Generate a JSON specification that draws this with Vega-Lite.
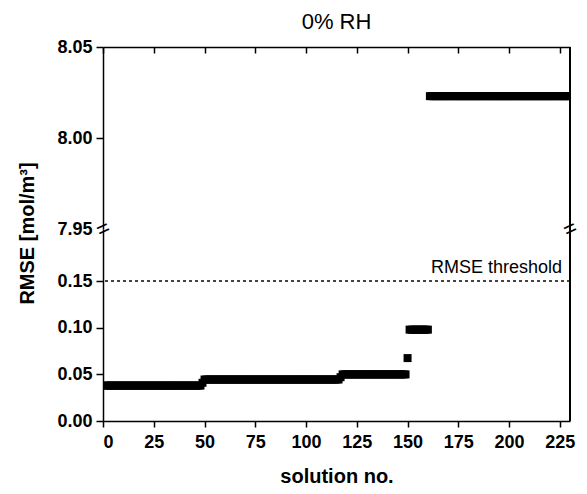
{
  "$schema": "https://vega.github.io/schema/vega-lite/v6.json",
  "padding": {"left": 16, "top": 11, "right": 5, "bottom": 5},
  "spacing": 0,
  "bounds": "flush",
  "config": {
    "font": "Liberation Sans",
    "view": {"stroke": null},
    "axis": {
      "grid": false,
      "domainColor": "black",
      "domainWidth": 1.5,
      "tickColor": "black",
      "tickWidth": 1.5,
      "labelFont": "Liberation Sans",
      "labelFontWeight": "bold",
      "labelFontSize": 18,
      "labelColor": "black",
      "titleFont": "Liberation Sans",
      "titleFontWeight": "bold",
      "titleFontSize": 20,
      "titleColor": "black"
    }
  },
  "datasets": {
    "rmse": [
      {"n":1,"r":0.038},{"n":2,"r":0.038},{"n":3,"r":0.038},{"n":4,"r":0.038},{"n":5,"r":0.038},{"n":6,"r":0.038},{"n":7,"r":0.038},{"n":8,"r":0.038},{"n":9,"r":0.038},{"n":10,"r":0.038},
      {"n":11,"r":0.038},{"n":12,"r":0.038},{"n":13,"r":0.038},{"n":14,"r":0.038},{"n":15,"r":0.038},{"n":16,"r":0.038},{"n":17,"r":0.038},{"n":18,"r":0.038},{"n":19,"r":0.038},{"n":20,"r":0.038},
      {"n":21,"r":0.038},{"n":22,"r":0.038},{"n":23,"r":0.038},{"n":24,"r":0.038},{"n":25,"r":0.038},{"n":26,"r":0.038},{"n":27,"r":0.038},{"n":28,"r":0.038},{"n":29,"r":0.038},{"n":30,"r":0.038},
      {"n":31,"r":0.038},{"n":32,"r":0.038},{"n":33,"r":0.038},{"n":34,"r":0.038},{"n":35,"r":0.038},{"n":36,"r":0.038},{"n":37,"r":0.038},{"n":38,"r":0.038},{"n":39,"r":0.038},{"n":40,"r":0.038},
      {"n":41,"r":0.038},{"n":42,"r":0.038},{"n":43,"r":0.038},{"n":44,"r":0.038},{"n":45,"r":0.038},{"n":46,"r":0.038},{"n":47,"r":0.038},{"n":48,"r":0.038},{"n":49,"r":0.041},{"n":50,"r":0.0445},
      {"n":51,"r":0.0445},{"n":52,"r":0.0445},{"n":53,"r":0.0445},{"n":54,"r":0.0445},{"n":55,"r":0.0445},{"n":56,"r":0.0445},{"n":57,"r":0.0445},{"n":58,"r":0.0445},{"n":59,"r":0.0445},{"n":60,"r":0.0445},
      {"n":61,"r":0.0445},{"n":62,"r":0.0445},{"n":63,"r":0.0445},{"n":64,"r":0.0445},{"n":65,"r":0.0445},{"n":66,"r":0.0445},{"n":67,"r":0.0445},{"n":68,"r":0.0445},{"n":69,"r":0.0445},{"n":70,"r":0.0445},
      {"n":71,"r":0.0445},{"n":72,"r":0.0445},{"n":73,"r":0.0445},{"n":74,"r":0.0445},{"n":75,"r":0.0445},{"n":76,"r":0.0445},{"n":77,"r":0.0445},{"n":78,"r":0.0445},{"n":79,"r":0.0445},{"n":80,"r":0.0445},
      {"n":81,"r":0.0445},{"n":82,"r":0.0445},{"n":83,"r":0.0445},{"n":84,"r":0.0445},{"n":85,"r":0.0445},{"n":86,"r":0.0445},{"n":87,"r":0.0445},{"n":88,"r":0.0445},{"n":89,"r":0.0445},{"n":90,"r":0.0445},
      {"n":91,"r":0.0445},{"n":92,"r":0.0445},{"n":93,"r":0.0445},{"n":94,"r":0.0445},{"n":95,"r":0.0445},{"n":96,"r":0.0445},{"n":97,"r":0.0445},{"n":98,"r":0.0445},{"n":99,"r":0.0445},{"n":100,"r":0.0445},
      {"n":101,"r":0.0445},{"n":102,"r":0.0445},{"n":103,"r":0.0445},{"n":104,"r":0.0445},{"n":105,"r":0.0445},{"n":106,"r":0.0445},{"n":107,"r":0.0445},{"n":108,"r":0.0445},{"n":109,"r":0.0445},{"n":110,"r":0.0445},
      {"n":111,"r":0.0445},{"n":112,"r":0.0445},{"n":113,"r":0.0445},{"n":114,"r":0.0445},{"n":115,"r":0.0445},{"n":116,"r":0.0445},{"n":117,"r":0.047},{"n":118,"r":0.05},{"n":119,"r":0.05},{"n":120,"r":0.05},
      {"n":121,"r":0.05},{"n":122,"r":0.05},{"n":123,"r":0.05},{"n":124,"r":0.05},{"n":125,"r":0.05},{"n":126,"r":0.05},{"n":127,"r":0.05},{"n":128,"r":0.05},{"n":129,"r":0.05},{"n":130,"r":0.05},
      {"n":131,"r":0.05},{"n":132,"r":0.05},{"n":133,"r":0.05},{"n":134,"r":0.05},{"n":135,"r":0.05},{"n":136,"r":0.05},{"n":137,"r":0.05},{"n":138,"r":0.05},{"n":139,"r":0.05},{"n":140,"r":0.05},
      {"n":141,"r":0.05},{"n":142,"r":0.05},{"n":143,"r":0.05},{"n":144,"r":0.05},{"n":145,"r":0.05},{"n":146,"r":0.05},{"n":147,"r":0.05},{"n":148,"r":0.05},{"n":149,"r":0.05},{"n":150,"r":0.0675},
      {"n":151,"r":0.098},{"n":152,"r":0.098},{"n":153,"r":0.098},{"n":154,"r":0.098},{"n":155,"r":0.098},{"n":156,"r":0.098},{"n":157,"r":0.098},{"n":158,"r":0.098},{"n":159,"r":0.098},{"n":160,"r":0.098},
      {"n":161,"r":8.023},{"n":162,"r":8.023},{"n":163,"r":8.023},{"n":164,"r":8.023},{"n":165,"r":8.023},{"n":166,"r":8.023},{"n":167,"r":8.023},{"n":168,"r":8.023},{"n":169,"r":8.023},{"n":170,"r":8.023},
      {"n":171,"r":8.023},{"n":172,"r":8.023},{"n":173,"r":8.023},{"n":174,"r":8.023},{"n":175,"r":8.023},{"n":176,"r":8.023},{"n":177,"r":8.023},{"n":178,"r":8.023},{"n":179,"r":8.023},{"n":180,"r":8.023},
      {"n":181,"r":8.023},{"n":182,"r":8.023},{"n":183,"r":8.023},{"n":184,"r":8.023},{"n":185,"r":8.023},{"n":186,"r":8.023},{"n":187,"r":8.023},{"n":188,"r":8.023},{"n":189,"r":8.023},{"n":190,"r":8.023},
      {"n":191,"r":8.023},{"n":192,"r":8.023},{"n":193,"r":8.023},{"n":194,"r":8.023},{"n":195,"r":8.023},{"n":196,"r":8.023},{"n":197,"r":8.023},{"n":198,"r":8.023},{"n":199,"r":8.023},{"n":200,"r":8.023},
      {"n":201,"r":8.023},{"n":202,"r":8.023},{"n":203,"r":8.023},{"n":204,"r":8.023},{"n":205,"r":8.023},{"n":206,"r":8.023},{"n":207,"r":8.023},{"n":208,"r":8.023},{"n":209,"r":8.023},{"n":210,"r":8.023},
      {"n":211,"r":8.023},{"n":212,"r":8.023},{"n":213,"r":8.023},{"n":214,"r":8.023},{"n":215,"r":8.023},{"n":216,"r":8.023},{"n":217,"r":8.023},{"n":218,"r":8.023},{"n":219,"r":8.023},{"n":220,"r":8.023},
      {"n":221,"r":8.023},{"n":222,"r":8.023},{"n":223,"r":8.023},{"n":224,"r":8.023},{"n":225,"r":8.023},{"n":226,"r":8.023},{"n":227,"r":8.023},{"n":228,"r":8.023},{"n":229,"r":8.023},{"n":230,"r":8.023}
    ]
  },
  "vconcat": [
    {
      "width": 467,
      "height": 182,
      "title": {"text": "0% RH", "fontSize": 22, "fontWeight": "normal", "font": "Liberation Sans", "color": "black", "frame": "group", "anchor": "middle", "offset": 4},
      "data": {"name": "rmse"},
      "layer": [
        {
          "transform": [{"filter": "datum.r > 1"}],
          "mark": {"type": "point", "shape": "square", "filled": true, "size": 64, "color": "black", "opacity": 1, "clip": true},
          "encoding": {
            "x": {"field": "n", "type": "quantitative",
              "scale": {"domain": [0, 230], "nice": false, "zero": false},
              "axis": {"orient": "top", "title": null, "labels": false,
                "values": [0,12.5,25,37.5,50,62.5,75,87.5,100,112.5,125,137.5,150,162.5,175,187.5,200,212.5,225],
                "tickSize": {"condition": {"test": "datum.value % 25 === 0", "value": -6}, "value": -3}}},
            "y": {"field": "r", "type": "quantitative",
              "scale": {"domain": [7.95, 8.05], "nice": false, "zero": false},
              "axis": {"title": null, "values": [7.95, 8.0, 8.05], "format": ".2f", "tickSize": 7, "labelPadding": 4,
                "tickOpacity": {"condition": {"test": "datum.value < 7.96", "value": 0}, "value": 1}}}
          }
        },
        {
          "mark": {"type": "rule", "color": "black", "strokeWidth": 1.5},
          "encoding": {"x": {"datum": 230}}
        },
        {
          "data": {"values": [{"bx": 0, "by": 7.95}, {"bx": 230, "by": 7.95}]},
          "mark": {"type": "text", "text": "=", "fontSize": 22, "angle": -25, "align": "center", "baseline": "middle", "color": "black", "font": "Liberation Sans"},
          "encoding": {
            "x": {"field": "bx", "type": "quantitative"},
            "y": {"field": "by", "type": "quantitative"}
          }
        }
      ]
    },
    {
      "width": 467,
      "height": 192,
      "data": {"name": "rmse"},
      "layer": [
        {
          "mark": {"type": "rule", "color": "#444", "strokeWidth": 1, "strokeDash": [3, 3]},
          "encoding": {"y": {"datum": 0.15}}
        },
        {
          "data": {"values": [{"lx": 230, "ly": 0.15, "label": "RMSE threshold"}]},
          "mark": {"type": "text", "align": "right", "baseline": "alphabetic", "dx": -8, "dy": -8, "fontSize": 18, "font": "Liberation Sans", "color": "black"},
          "encoding": {
            "x": {"field": "lx", "type": "quantitative"},
            "y": {"field": "ly", "type": "quantitative"},
            "text": {"field": "label"}
          }
        },
        {
          "transform": [{"filter": "datum.r < 1"}],
          "mark": {"type": "point", "shape": "square", "filled": true, "size": 64, "color": "black", "opacity": 1, "clip": true},
          "encoding": {
            "x": {"field": "n", "type": "quantitative",
              "scale": {"domain": [0, 230], "nice": false, "zero": false},
              "axis": {"title": "solution no.", "titlePadding": 15,
                "values": [0,12.5,25,37.5,50,62.5,75,87.5,100,112.5,125,137.5,150,162.5,175,187.5,200,212.5,225],
                "labelExpr": "datum.value % 25 === 0 ? datum.label : ''",
                "labelPadding": 6,
                "tickSize": {"condition": {"test": "datum.value % 25 === 0", "value": 6}, "value": 3}}},
            "y": {"field": "r", "type": "quantitative",
              "scale": {"domain": [0, 0.206], "nice": false, "zero": false},
              "axis": {"title": "RMSE [mol/m³]", "values": [0, 0.05, 0.1, 0.15], "format": ".2f", "tickSize": 7, "labelPadding": 4,
                "titleX": -76, "titleY": 4, "titleAlign": "center", "titleBaseline": "middle", "titleAngle": -90}}
          }
        },
        {
          "mark": {"type": "rule", "color": "black", "strokeWidth": 1.5},
          "encoding": {"x": {"datum": 230}}
        }
      ]
    }
  ]
}
